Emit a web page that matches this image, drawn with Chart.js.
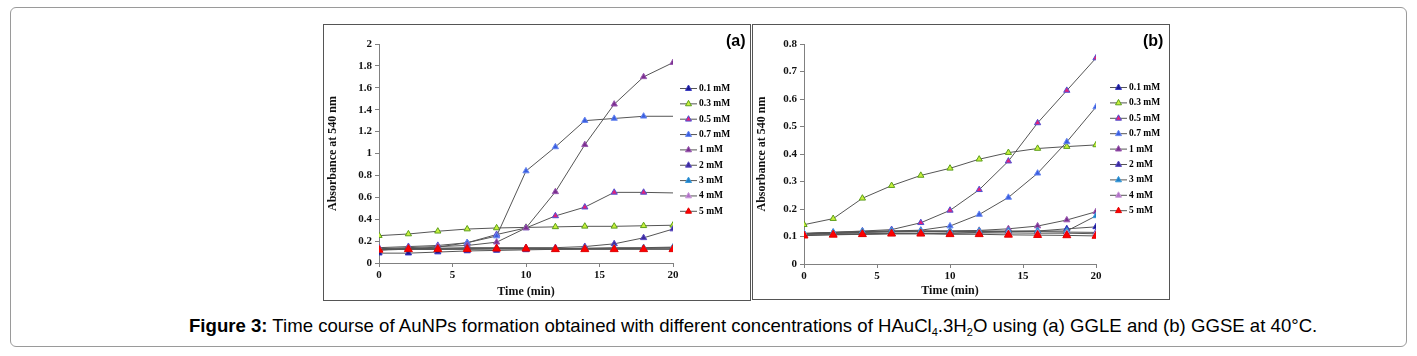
<!DOCTYPE html>
<html>
<head>
<meta charset="utf-8">
<script src="https://cdn.jsdelivr.net/npm/chart.js@4"></script>
<style>
html,body{margin:0;padding:0;background:#fff;width:1417px;height:356px;overflow:hidden;}
#outer{position:absolute;left:10px;top:7px;width:1395px;height:338px;border:1px solid #9a9a9a;border-radius:6px;}
.panel{position:absolute;border:1px solid #555;background:#fff;}
#pa{left:323px;top:24px;width:426px;height:275px;}
#pb{left:752px;top:24px;width:416px;height:274px;}
.panel canvas{position:absolute;left:0;top:0;}
.tag{position:absolute;font:bold 16px 'Liberation Sans',Arial,sans-serif;color:#000;}
#caption{position:absolute;left:189px;top:315px;font:18.6px 'Liberation Sans',Arial,sans-serif;white-space:nowrap;color:#000;}
#caption sub{font-size:11px;vertical-align:-4px;line-height:0;}
</style>
</head>
<body>
<div id="outer"></div>
<div class="panel" id="pa"><canvas id="ca" width="426" height="275"></canvas><div class="tag" style="left:402px;top:7px;">(a)</div></div>
<div class="panel" id="pb"><canvas id="cb" width="416" height="274"></canvas><div class="tag" style="left:390px;top:7px;">(b)</div></div>
<div id="caption"><b>Figure 3:</b> Time course of AuNPs formation obtained with different concentrations of HAuCl<sub>4</sub>.3H<sub>2</sub>O using (a) GGLE and (b) GGSE at 40°C.</div>
<script>
// ---- data ----
const times = [0, 2, 4, 6, 8, 10, 12, 14, 16, 18, 20];
const seriesNames = ['0.1 mM', '0.3 mM', '0.5 mM', '0.7 mM', '1 mM', '2 mM', '3 mM', '4 mM', '5 mM'];

// panel (a) GGLE
const a_01 = [0.09, 0.09, 0.10, 0.11, 0.115, 0.12, 0.125, 0.13, 0.13, 0.135, 0.14];
const a_03 = [0.25, 0.265, 0.29, 0.31, 0.32, 0.325, 0.33, 0.335, 0.335, 0.34, 0.345];
const a_05 = [0.14, 0.15, 0.16, 0.185, 0.26, 0.32, 0.43, 0.51, 0.645, 0.645, 0.64];
const a_07 = [0.12, 0.13, 0.145, 0.185, 0.246, 0.84, 1.06, 1.30, 1.32, 1.34, 1.34];
const a_1  = [0.13, 0.14, 0.15, 0.16, 0.19, 0.32, 0.65, 1.08, 1.45, 1.70, 1.83];
const a_2  = [0.12, 0.13, 0.135, 0.14, 0.14, 0.14, 0.14, 0.15, 0.175, 0.23, 0.31];
const a_3  = [0.12, 0.125, 0.125, 0.13, 0.13, 0.13, 0.13, 0.135, 0.14, 0.14, 0.145];
const a_4  = [0.13, 0.13, 0.13, 0.13, 0.13, 0.13, 0.13, 0.13, 0.13, 0.13, 0.13];
const a_5  = [0.12, 0.125, 0.125, 0.125, 0.13, 0.13, 0.125, 0.125, 0.125, 0.125, 0.125];

// panel (b) GGSE
const b_01 = [0.105, 0.107, 0.108, 0.11, 0.11, 0.112, 0.115, 0.118, 0.12, 0.128, 0.135];
const b_03 = [0.143, 0.165, 0.239, 0.285, 0.322, 0.348, 0.381, 0.405, 0.42, 0.427, 0.433];
const b_05 = [0.11, 0.115, 0.12, 0.125, 0.15, 0.195, 0.27, 0.374, 0.513, 0.631, 0.749];
const b_07 = [0.11, 0.115, 0.118, 0.12, 0.123, 0.138, 0.18, 0.242, 0.33, 0.444, 0.571];
const b_1  = [0.108, 0.112, 0.115, 0.118, 0.12, 0.12, 0.122, 0.128, 0.138, 0.16, 0.19];
const b_2  = [0.11, 0.112, 0.115, 0.117, 0.118, 0.118, 0.118, 0.118, 0.118, 0.116, 0.115];
const b_3  = [0.112, 0.115, 0.118, 0.12, 0.12, 0.12, 0.12, 0.12, 0.12, 0.12, 0.175];
const b_4  = [0.108, 0.11, 0.11, 0.112, 0.112, 0.112, 0.113, 0.113, 0.112, 0.112, 0.11];
const b_5  = [0.103, 0.106, 0.108, 0.11, 0.11, 0.108, 0.108, 0.106, 0.105, 0.104, 0.102];

const xTicks = [0, 5, 10, 15, 20];

// ---- styles ----
const markerFill   = ['#1a1a8c', '#c8f03c', '#e4207a', '#3a5ee0', '#7a2f8f', '#3b2a9e', '#1e7fc8', '#b070c8', '#ff0000'];
const markerBorder = ['#3434c0', '#5c9e1a', '#5050d0', '#6a88f0', '#9a5ab0', '#5a4ac0', '#3a9ad8', '#c898d8', '#e00000'];
const lineColor = '#555555';
const serif = "'Liberation Serif','Times New Roman',serif";

function buildSets(list, hideLast) {
  return list.map((vals, i) => ({
    label: seriesNames[i],
    data: vals.map((v, k) => ({x: times[k], y: v})),
    borderColor: lineColor,
    borderWidth: 1,
    backgroundColor: markerFill[i],
    pointBackgroundColor: markerFill[i],
    pointBorderColor: markerBorder[i],
    pointBorderWidth: 1,
    pointStyle: 'triangle',
    pointRadius: vals.map((v, k) => (hideLast.includes(i) && k === vals.length - 1) ? 0 : (i === 8 ? 4.6 : 3.6)),
    tension: 0,
    fill: false,
    order: 8 - i
  }));
}

const legendPlugin = {
  id: 'sideLegend',
  afterDraw(chart, args, opts) {
    const ctx = chart.ctx;
    ctx.save();
    chart.data.datasets.forEach((ds, i) => {
      const y = opts.top + i * opts.step;
      ctx.strokeStyle = lineColor;
      ctx.lineWidth = 1;
      ctx.beginPath();
      ctx.moveTo(opts.x, y + 0.5);
      ctx.lineTo(opts.x + opts.len, y + 0.5);
      ctx.stroke();
      const cx = opts.x + opts.len / 2, r = 3;
      ctx.fillStyle = ds.pointBackgroundColor;
      ctx.strokeStyle = ds.pointBorderColor;
      ctx.beginPath();
      ctx.moveTo(cx, y - r);
      ctx.lineTo(cx + r, y + r * 0.8);
      ctx.lineTo(cx - r, y + r * 0.8);
      ctx.closePath();
      ctx.fill();
      ctx.stroke();
      ctx.fillStyle = '#000';
      ctx.font = 'bold 9.5px ' + serif;
      ctx.textBaseline = 'middle';
      ctx.textAlign = 'left';
      ctx.fillText(ds.label, opts.x + opts.len + 2, y + 0.5);
    });
    ctx.restore();
  }
};

function makeChart(id, sets, yMax, yStep, cfg) {
  return new Chart(document.getElementById(id), {
    type: 'line',
    data: {datasets: sets},
    options: {
      responsive: false,
      animation: false,
      devicePixelRatio: 1,
      layout: {padding: {left: 0, top: cfg.top, right: cfg.right, bottom: 0}},
      plugins: {
        legend: {display: false},
        tooltip: {enabled: false},
        sideLegend: cfg.legend
      },
      scales: {
        x: {
          type: 'linear', min: 0, max: 20,
          afterBuildTicks(s) { s.ticks = xTicks.map(v => ({value: v})); },
          afterFit(s) { s.height = cfg.xh; },
          border: {display: true, color: '#808080', width: 1},
          grid: {drawOnChartArea: false, tickLength: 4, color: '#808080'},
          ticks: {color: '#111', padding: 2, maxRotation: 0, font: {family: serif, size: 11, weight: 'bold'}},
          title: {display: true, text: 'Time (min)', color: '#111', padding: {top: 0, bottom: 1}, font: {family: serif, size: 12, weight: 'bold'}}
        },
        y: {
          min: 0, max: yMax,
          ticks: {stepSize: yStep, color: '#111', padding: 3, font: {family: serif, size: 11, weight: 'bold'},
                  callback: v => String(parseFloat(Number(v).toFixed(2)))},
          afterFit(s) { s.width = cfg.yw; },
          border: {display: true, color: '#808080', width: 1},
          grid: {drawOnChartArea: false, tickLength: 4, color: '#808080'},
          title: {display: true, text: 'Absorbance at 540 nm', color: '#111', padding: {top: cfg.ytp, bottom: 0}, font: {family: serif, size: 12, weight: 'bold'}}
        }
      }
    },
    plugins: [legendPlugin]
  });
}

makeChart('ca', buildSets([a_01, a_03, a_05, a_07, a_1, a_2, a_3, a_4, a_5], [2, 3]), 2, 0.2,
  {top: 19, right: 77, xh: 37, yw: 55, ytp: 2, legend: {x: 356, len: 17, top: 63, step: 15.35}});
makeChart('cb', buildSets([b_01, b_03, b_05, b_07, b_1, b_2, b_3, b_4, b_5], []), 0.8, 0.1,
  {top: 19, right: 73, xh: 35, yw: 51, ytp: 2, legend: {x: 357, len: 17, top: 62, step: 15.4}});
</script>
</body>
</html>
